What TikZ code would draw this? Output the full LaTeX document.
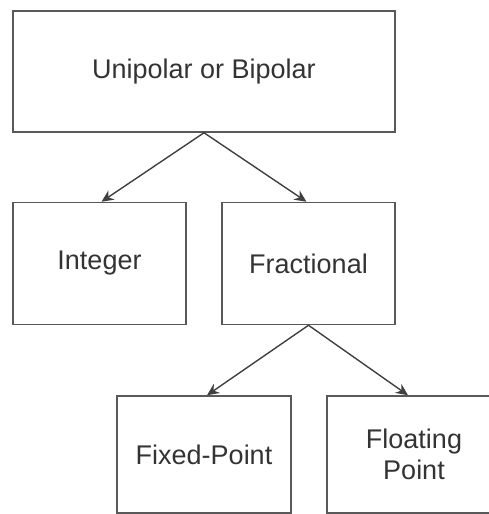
\documentclass[tikz,border=0pt]{standalone}
\usepackage{fontspec}
\setmainfont{Liberation Sans}
\usetikzlibrary{arrows.meta,positioning}

\begin{document}
\begin{tikzpicture}[
  x=1pt, y=1pt,
  >={Stealth[length=12pt,width=11pt]},
  box/.style  = {draw=black!65, line width=1.5pt, minimum width=173pt, minimum height=122pt,
                 align=center, inner sep=2pt, text=black!80,
                 font=\fontsize{27}{31}\selectfont},
  line/.style = {->, draw=black!75, line width=1.4pt},
  node distance=69pt and 0pt
]
\useasboundingbox (0,0) rectangle (488,-514);

% Nodes
\node[box, minimum width=382pt, minimum height=121pt] (top) at (204,-71.5) {Unipolar or Bipolar};
\node[box, below right=of top.south west] (int)  {Integer};
\node[box, below left=of top.south east]  (frac) {Fractional};
\node[box, minimum width=174pt, minimum height=117pt, below=70pt of frac.south, xshift=-104.5pt] (fix) {Fixed-Point};
\node[box, minimum width=174pt, minimum height=117pt, below=70pt of frac.south, xshift=105.5pt]  (flt) {Floating\\Point};

% Connections
\draw[line] (top.south) -- ([xshift=2pt]int.north);
\draw[line] (top.south) -- ([xshift=-2pt]frac.north);
\draw[line] (frac.south) -- ([xshift=3pt]fix.north);
\draw[line] (frac.south) -- ([xshift=-6pt]flt.north);

\end{tikzpicture}
\end{document}
